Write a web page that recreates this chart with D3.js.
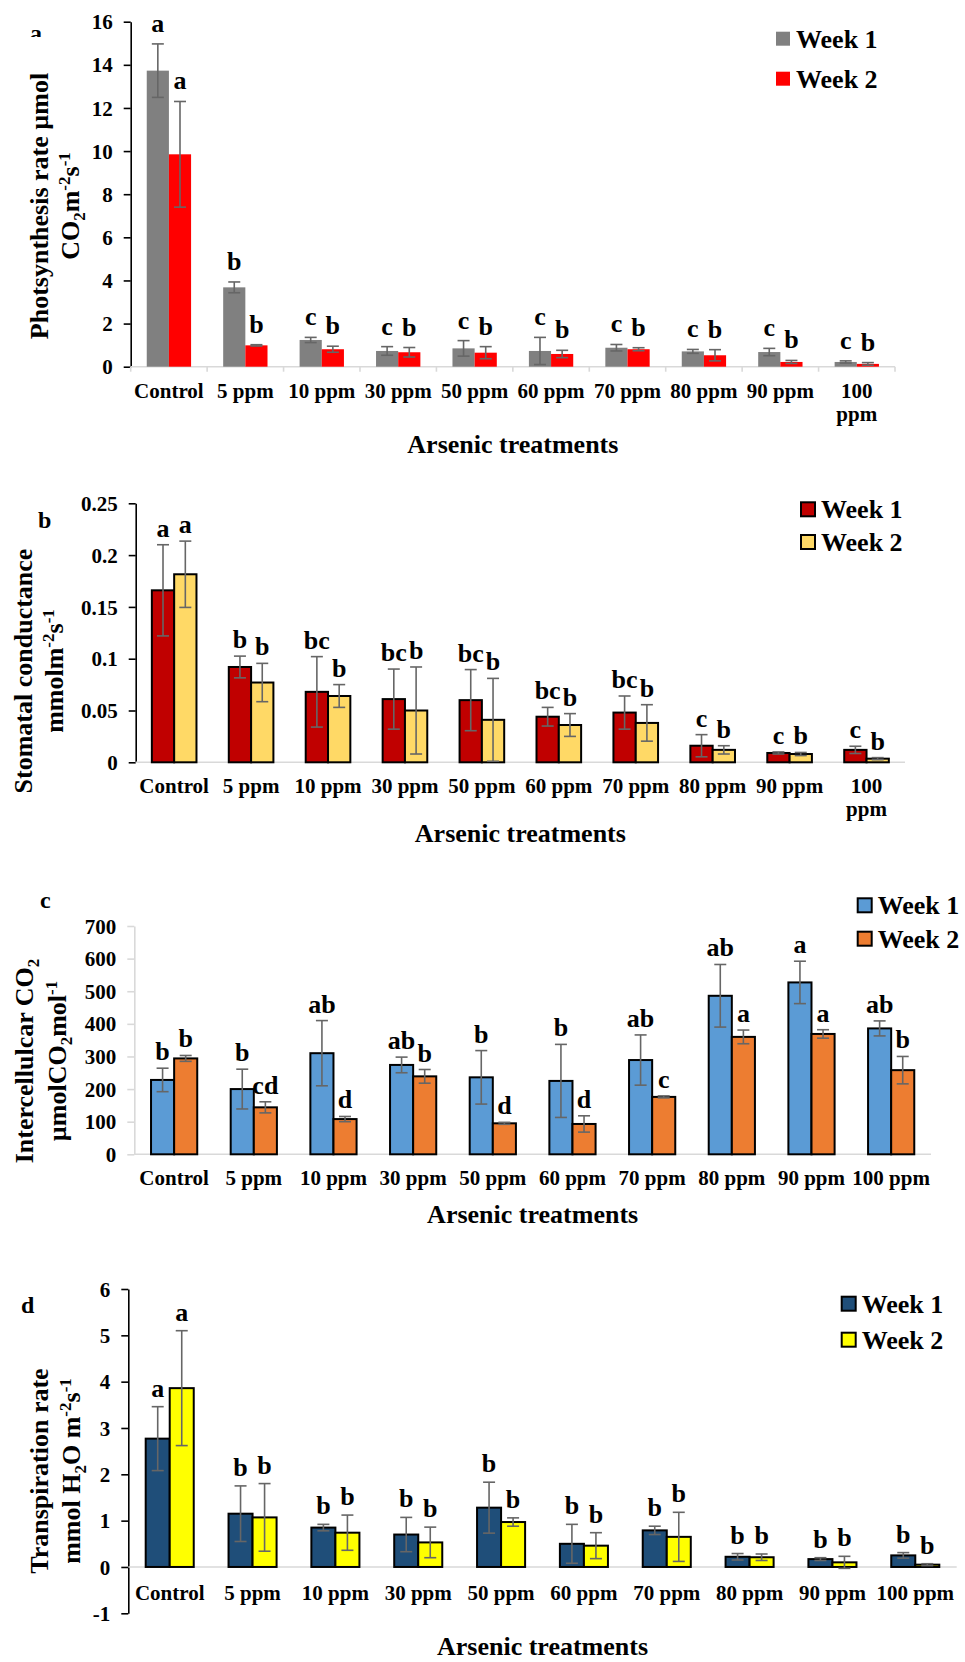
<!DOCTYPE html>
<html>
<head>
<meta charset="utf-8">
<script src="https://cdn.jsdelivr.net/npm/d3@7"></script>
<style>
  body { margin: 0; background: #fff; }
  svg text { font-family: "Liberation Serif", "Times New Roman", serif; font-weight: bold; fill: #000; }
</style>
</head>
<body>
<div id="chart"></div>
<script>
// Treatments (shared by all four panels)
const categories = ["Control", "5 ppm", "10 ppm", "30 ppm", "50 ppm", "60 ppm", "70 ppm", "80 ppm", "90 ppm", "100 ppm"];
const seriesNames = ["Week 1", "Week 2"];

// a - Photosynthesis rate
const photoWeek1 = [13.73, 3.68, 1.24, 0.73, 0.85, 0.73, 0.88, 0.71, 0.68, 0.22];
const photoWeek1Err = [1.24, 0.25, 0.12, 0.20, 0.36, 0.63, 0.15, 0.09, 0.17, 0.05];
const photoWeek2 = [9.85, 0.99, 0.81, 0.67, 0.65, 0.59, 0.81, 0.53, 0.22, 0.13];
const photoWeek2Err = [2.45, 0.03, 0.14, 0.22, 0.28, 0.17, 0.07, 0.26, 0.07, 0.06];
const photoWeek1Letters = ["a", "b", "c", "c", "c", "c", "c", "c", "c", "c"];
const photoWeek2Letters = ["a", "b", "b", "b", "b", "b", "b", "b", "b", "b"];
const photoTicks = [0, 2, 4, 6, 8, 10, 12, 14, 16];

// b - Stomatal conductance
const stomWeek1 = [0.166, 0.092, 0.068, 0.061, 0.060, 0.044, 0.048, 0.016, 0.009, 0.012];
const stomWeek1Err = [0.044, 0.0105, 0.034, 0.029, 0.0295, 0.009, 0.016, 0.0107, 0.001, 0.0035];
const stomWeek2 = [0.1815, 0.077, 0.064, 0.050, 0.041, 0.036, 0.038, 0.012, 0.008, 0.0035];
const stomWeek2Err = [0.032, 0.0185, 0.011, 0.042, 0.040, 0.011, 0.0176, 0.004, 0.0015, 0.001];
const stomWeek1Letters = ["a", "b", "bc", "bc", "bc", "bc", "bc", "c", "c", "c"];
const stomWeek2Letters = ["a", "b", "b", "b", "b", "b", "b", "b", "b", "b"];
const stomTicks = [0, 0.05, 0.1, 0.15, 0.2, 0.25];

// c - Intercellular CO2
const ciWeek1 = [228, 200, 310, 274, 236, 225, 289, 486, 527, 386];
const ciWeek1Err = [36, 61, 100, 24, 82, 112, 77, 96, 65, 23];
const ciWeek2 = [294, 144, 108, 239, 95, 93, 176, 360, 369, 258];
const ciWeek2Err = [9, 17, 8, 21, 3, 25, 3, 21, 13, 42];
const ciWeek1Letters = ["b", "b", "ab", "ab", "b", "b", "ab", "ab", "a", "ab"];
const ciWeek2Letters = ["b", "cd", "d", "b", "d", "d", "c", "a", "a", "b"];
const ciTicks = [0, 100, 200, 300, 400, 500, 600, 700];

// d - Transpiration rate
const transWeek1 = [2.77, 1.15, 0.85, 0.70, 1.28, 0.50, 0.79, 0.22, 0.17, 0.25];
const transWeek1Err = [0.69, 0.60, 0.07, 0.37, 0.55, 0.42, 0.09, 0.07, 0.03, 0.06];
const transWeek2 = [3.86, 1.07, 0.74, 0.53, 0.97, 0.46, 0.65, 0.21, 0.10, 0.05];
const transWeek2Err = [1.24, 0.73, 0.38, 0.33, 0.09, 0.28, 0.53, 0.07, 0.13, 0.02];
const transWeek1Letters = ["a", "b", "b", "b", "b", "b", "b", "b", "b", "b"];
const transWeek2Letters = ["a", "b", "b", "b", "b", "b", "b", "b", "b", "b"];
const transTicks = [-1, 0, 1, 2, 3, 4, 5, 6];

const width = 965, height = 1662;
const svg = d3.select("#chart").append("svg")
    .attr("width", width)
    .attr("height", height);

// write "CO", {t:"2", sub:true} ... into a text element
function richText(sel, parts, small) {
    let shift = 0;
    parts.forEach(p => {
        const part = typeof p === "string" ? { t: p } : p;
        const target = part.sub ? 6 : part.sup ? -9 : 0;
        const ts = sel.append("tspan").text(part.t).attr("dy", target - shift);
        if (part.sub || part.sup) ts.style("font-size", small + "px");
        shift = target;
    });
}

function drawPanel(p) {
    const g = svg.append("g");
    const x = d3.scaleBand().domain(categories).range([p.x0, p.x1]).paddingInner(0.42).paddingOuter(0.21);
    const xs = d3.scaleBand().domain([0, 1]).range([0, x.bandwidth()]);
    const y = d3.scaleLinear().domain(p.domain).range([p.yBottom, p.yTop]);
    const base = y(0);

    // y axis
    const yAxis = g.append("g")
        .attr("transform", `translate(${p.x0},0)`)
        .call(d3.axisLeft(y).tickValues(p.ticks).tickSize(7).tickSizeOuter(0).tickPadding(11)
            .tickFormat(d => String(+d.toFixed(3))));
    yAxis.selectAll("text").style("font-size", "21px").attr("dy", "0.34em");
    yAxis.selectAll("path, line").attr("stroke", p.yAxisColor).attr("stroke-width", 1.6);

    // x axis (light gray)
    g.append("line")
        .attr("x1", p.x0).attr("x2", p.x1).attr("y1", base).attr("y2", base)
        .attr("stroke", "#d9d9d9").attr("stroke-width", 1.6);
    if (p.xTicks) {
        const bounds = categories.map(c => x(c) - x.step() * 0.21).concat([p.x1]);
        g.selectAll(".xt").data(bounds).enter().append("line")
            .attr("x1", d => d).attr("x2", d => d).attr("y1", base).attr("y2", base + 5)
            .attr("stroke", "#d9d9d9").attr("stroke-width", 1.6);
    }

    // bars
    const rows = [];
    categories.forEach((c, i) => {
        p.series.forEach((s, j) => {
            rows.push({ c, j, v: s.values[i], e: s.err[i], l: s.letters[i] });
        });
    });
    g.selectAll(".bar").data(rows).enter().append("rect")
        .attr("x", d => x(d.c) + xs(d.j))
        .attr("width", xs.bandwidth())
        .attr("y", d => Math.min(y(d.v), base))
        .attr("height", d => Math.abs(base - y(d.v)))
        .attr("fill", d => p.colors[d.j])
        .attr("stroke", p.barStroke ? "#000" : "none")
        .attr("stroke-width", 2);

    // error bars
    const eb = g.selectAll(".err").data(rows).enter().append("g")
        .attr("stroke", "#666").attr("stroke-width", 1.6);
    const cx = d => x(d.c) + xs(d.j) + xs.bandwidth() / 2;
    eb.append("line").attr("x1", cx).attr("x2", cx)
        .attr("y1", d => y(d.v + d.e)).attr("y2", d => y(d.v - d.e));
    eb.append("line").attr("x1", d => cx(d) - 6).attr("x2", d => cx(d) + 6)
        .attr("y1", d => y(d.v + d.e)).attr("y2", d => y(d.v + d.e));
    eb.append("line").attr("x1", d => cx(d) - 6).attr("x2", d => cx(d) + 6)
        .attr("y1", d => y(d.v - d.e)).attr("y2", d => y(d.v - d.e));

    // significance letters
    g.selectAll(".let").data(rows).enter().append("text")
        .attr("x", cx)
        .attr("y", d => y(d.v + d.e) - p.letterGap)
        .attr("text-anchor", "middle")
        .style("font-size", "26px")
        .text(d => d.l);

    // category labels
    const cats = g.selectAll(".cat").data(categories).enter().append("text")
        .attr("x", d => x(d) + x.bandwidth() / 2)
        .attr("y", base + (p.labelGap || 31))
        .attr("text-anchor", "middle")
        .style("font-size", "21px");
    cats.each(function(d) {
        const t = d3.select(this);
        if (p.wrap && d === "100 ppm") {
            t.append("tspan").attr("x", x(d) + x.bandwidth() / 2).text("100");
            t.append("tspan").attr("x", x(d) + x.bandwidth() / 2).attr("dy", 23).text("ppm");
        } else {
            t.text(d);
        }
    });

    // x title
    g.append("text")
        .attr("x", (p.x0 + p.x1) / 2).attr("y", p.xTitleY)
        .attr("text-anchor", "middle")
        .style("font-size", "26px")
        .text("Arsenic treatments");

    // y title, two rotated lines
    p.yTitle.forEach((line, k) => {
        const t = g.append("text")
            .attr("transform", `translate(${p.yTitleX[k]},${p.yTitleCy}) rotate(-90)`)
            .attr("text-anchor", "middle")
            .style("font-size", "26px");
        richText(t, line, 17);
    });

    // legend
    p.series.forEach((s, j) => {
        g.append("rect")
            .attr("x", p.legend.x).attr("y", p.legend.y[j])
            .attr("width", 14).attr("height", 14)
            .attr("fill", p.colors[j])
            .attr("stroke", p.barStroke ? "#000" : "none").attr("stroke-width", 2);
        g.append("text")
            .attr("x", p.legend.x + 20).attr("y", p.legend.y[j] + 16)
            .style("font-size", "26px")
            .text(seriesNames[j]);
    });

    // panel letter
    const pl = g.append("text")
        .attr("x", p.tag.x).attr("y", p.tag.y)
        .style("font-size", "24px")
        .text(p.tag.t);
    if (p.tag.clip) {
        svg.append("clipPath").attr("id", "tagclip").append("rect")
            .attr("x", 0).attr("y", 0).attr("width", 80).attr("height", p.tag.clip);
        pl.attr("clip-path", "url(#tagclip)");
    }
}

drawPanel({
    x0: 130.7, x1: 895, yTop: 21.7, yBottom: 366.7, domain: [0, 16], ticks: photoTicks,
    yAxisColor: "#000", xTicks: true, barStroke: false, wrap: true, letterGap: 12,
    colors: ["#808080", "#ff0000"],
    series: [
        { values: photoWeek1, err: photoWeek1Err, letters: photoWeek1Letters },
        { values: photoWeek2, err: photoWeek2Err, letters: photoWeek2Letters }
    ],
    xTitleY: 453,
    yTitle: [["Photsynthesis rate µmol"], ["CO", { t: "2", sub: true }, "m", { t: "-2", sup: true }, "s", { t: "-1", sup: true }]],
    yTitleX: [48, 79], yTitleCy: 206,
    legend: { x: 776, y: [31.7, 71.7] },
    tag: { t: "a", x: 30, y: 41, clip: 37 }
});

drawPanel({
    x0: 135.7, x1: 905, yTop: 503.3, yBottom: 762.3, domain: [0, 0.25], ticks: stomTicks,
    yAxisColor: "#000", xTicks: false, barStroke: true, wrap: true, letterGap: 8,
    colors: ["#c00000", "#ffd966"],
    series: [
        { values: stomWeek1, err: stomWeek1Err, letters: stomWeek1Letters },
        { values: stomWeek2, err: stomWeek2Err, letters: stomWeek2Letters }
    ],
    xTitleY: 842,
    yTitle: [["Stomatal conductance"], ["mmolm", { t: "-2", sup: true }, "s", { t: "-1", sup: true }]],
    yTitleX: [32, 63], yTitleCy: 671,
    legend: { x: 801, y: [502.3, 535] },
    tag: { t: "b", x: 38, y: 528 }
});

drawPanel({
    x0: 134.3, x1: 931, yTop: 926, yBottom: 1154.3, domain: [0, 700], ticks: ciTicks,
    yAxisColor: "#d9d9d9", xTicks: false, barStroke: true, wrap: false, letterGap: 8,
    colors: ["#5b9bd5", "#ed7d31"],
    series: [
        { values: ciWeek1, err: ciWeek1Err, letters: ciWeek1Letters },
        { values: ciWeek2, err: ciWeek2Err, letters: ciWeek2Letters }
    ],
    xTitleY: 1223,
    yTitle: [["Intercellulcar CO", { t: "2", sub: true }], ["µmolCO", { t: "2", sub: true }, "mol", { t: "-1", sup: true }]],
    yTitleX: [33, 66], yTitleCy: 1061,
    legend: { x: 857.7, y: [898.3, 931.7] },
    tag: { t: "c", x: 40, y: 908 }
});

drawPanel({
    x0: 128.3, x1: 956.7, yTop: 1289, yBottom: 1613.3, domain: [-1, 6], ticks: transTicks,
    yAxisColor: "#000", xTicks: false, barStroke: true, wrap: false, letterGap: 10, labelGap: 33,
    colors: ["#1f4e79", "#ffff00"],
    series: [
        { values: transWeek1, err: transWeek1Err, letters: transWeek1Letters },
        { values: transWeek2, err: transWeek2Err, letters: transWeek2Letters }
    ],
    xTitleY: 1655,
    yTitle: [["Transpiration rate"], ["mmol H", { t: "2", sub: true }, "O m", { t: "-2", sup: true }, "s", { t: "-1", sup: true }]],
    yTitleX: [48, 80], yTitleCy: 1471,
    legend: { x: 841.7, y: [1296.7, 1332.7] },
    tag: { t: "d", x: 21, y: 1313 }
});
</script>
</body>
</html>
